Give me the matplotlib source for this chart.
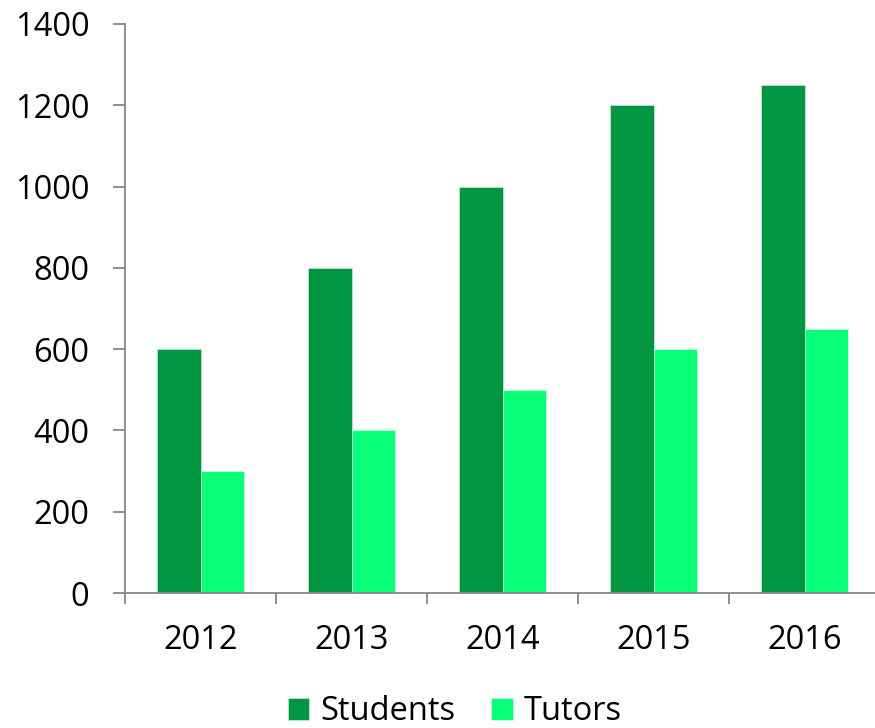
import matplotlib
matplotlib.use("Agg")
import matplotlib.pyplot as plt
import numpy as np

years = ["2012", "2013", "2014", "2015", "2016"]
students = [600, 800, 1000, 1200, 1250]
tutors = [300, 400, 500, 600, 650]

plt.rcParams['font.family'] = ['Open Sans', 'DejaVu Sans']

fig = plt.figure(figsize=(8.75, 7.28), dpi=100)
ax = fig.add_axes([125/875, 1-593/728, 755/875, (593-24)/728])

x = np.arange(len(years))
w = 0.288
c_s = "#009641"
c_t = "#0AFF78"
ax.bar(x - w/2, students, w, color=c_s, edgecolor="#e0f0e0", linewidth=0.4, label="Students")
ax.bar(x + w/2, tutors, w, color=c_t, edgecolor="#e0fff0", linewidth=0.4, label="Tutors")

ax.set_xlim(-0.5, len(years) - 0.5)
ax.set_ylim(0, 1400)
ax.set_yticks(range(0, 1401, 200))
ax.set_xticks(x)
ax.set_xticklabels(years)
ax.set_xticks(np.arange(-0.5, len(years), 1), minor=True)

gray = "#868686"
for s in ["top", "right"]:
    ax.spines[s].set_visible(False)
for s in ["left", "bottom"]:
    ax.spines[s].set_color(gray)
    ax.spines[s].set_linewidth(1.3)

fs = 23.5
ax.tick_params(axis="y", direction="out", length=8.6, width=1.3, color=gray,
               labelsize=fs, pad=17)
ax.tick_params(axis="x", which="major", length=0, labelsize=fs, pad=22)
ax.tick_params(axis="x", which="minor", direction="out", length=8, width=1.3, color=gray)

leg = fig.legend(loc="center", bbox_to_anchor=(455/875, 1-712/728), ncol=2, frameon=False,
                 fontsize=fs, handlelength=0.65, handleheight=0.65, handletextpad=0.35,
                 columnspacing=1.1)

fig.savefig("out.png", dpi=100)
